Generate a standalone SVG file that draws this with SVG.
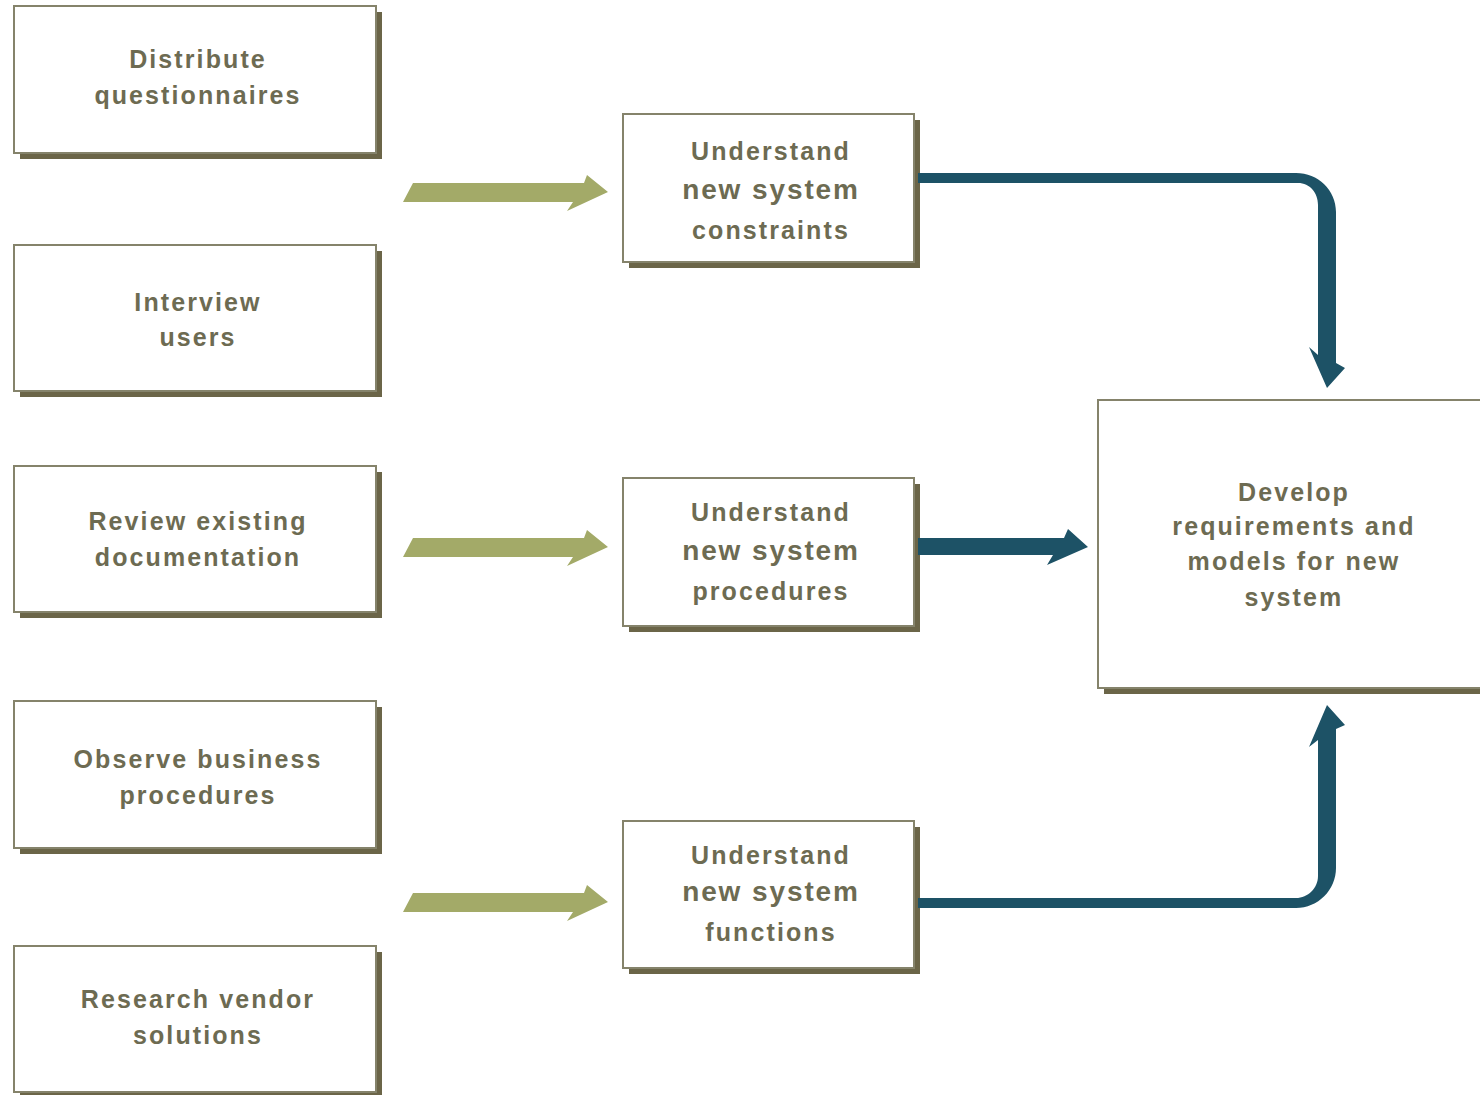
<svg xmlns="http://www.w3.org/2000/svg" width="1480" height="1095" viewBox="0 0 1480 1095">
<style>
.box{fill:#ffffff;stroke:#85836b;stroke-width:2}
.sh{fill:#6b6548}
.t{font-family:"Liberation Sans",Arial,sans-serif;font-weight:bold;font-size:25px;letter-spacing:2.1px;fill:#6d6b52;text-anchor:middle}
.big{font-size:28px;letter-spacing:1.9px}
.g{fill:#a3aa68}
.b{fill:#1d5266}
</style>
<rect width="1480" height="1095" fill="#ffffff"/>
<g id="n1"><rect class="sh" x="20" y="12" width="362" height="147"/><rect class="box" x="14" y="6" width="362" height="147"/><text class="t" x="198" y="68">Distribute</text><text class="t" x="198" y="104">questionnaires</text></g>
<g id="n2"><rect class="sh" x="20" y="251" width="362" height="146"/><rect class="box" x="14" y="245" width="362" height="146"/><text class="t" x="198" y="311">Interview</text><text class="t" x="198" y="346">users</text></g>
<g id="n3"><rect class="sh" x="20" y="472" width="362" height="146"/><rect class="box" x="14" y="466" width="362" height="146"/><text class="t" x="198" y="530">Review existing</text><text class="t" x="198" y="566">documentation</text></g>
<g id="n4"><rect class="sh" x="20" y="707" width="362" height="147"/><rect class="box" x="14" y="701" width="362" height="147"/><text class="t" x="198" y="768">Observe business</text><text class="t" x="198" y="804">procedures</text></g>
<g id="n5"><rect class="sh" x="20" y="952" width="362" height="146"/><rect class="box" x="14" y="946" width="362" height="146"/><text class="t" x="198" y="1008">Research vendor</text><text class="t" x="198" y="1044">solutions</text></g>
<g id="m1"><rect class="sh" x="629" y="120" width="291" height="148"/><rect class="box" x="623" y="114" width="291" height="148"/><text class="t" x="771" y="160">Understand</text><text class="t big" x="771" y="199">new system</text><text class="t" x="771" y="239">constraints</text></g>
<g id="m2"><rect class="sh" x="629" y="484" width="291" height="148"/><rect class="box" x="623" y="478" width="291" height="148"/><text class="t" x="771" y="521">Understand</text><text class="t big" x="771" y="560">new system</text><text class="t" x="771" y="600">procedures</text></g>
<g id="m3"><rect class="sh" x="629" y="827" width="291" height="147"/><rect class="box" x="623" y="821" width="291" height="147"/><text class="t" x="771" y="864">Understand</text><text class="t big" x="771" y="901">new system</text><text class="t" x="771" y="941">functions</text></g>
<g id="r1"><rect class="sh" x="1104" y="406" width="400" height="288"/><rect class="box" x="1098" y="400" width="400" height="288"/><text class="t" x="1294" y="501">Develop</text><text class="t" x="1294" y="535">requirements and</text><text class="t" x="1294" y="570">models for new</text><text class="t" x="1294" y="606">system</text></g>
<g id="connectors">
<polygon class="g" points="413,183 584,183 587,175 608,192 567,211 573,202 403,202"/>
<polygon class="g" points="413,538 584,538 587,530 608,547 567,566 573,557 403,557"/>
<polygon class="g" points="413,893 584,893 587,885 608,902 567,921 573,912 403,912"/>
<path class="b" d="M918,173 H1296 C1318,173 1336,190 1336,212 V363 L1345,368 L1327,388 L1309,347 L1318,355 V205 C1318,193 1310,183 1298,183 H918 Z"/>
<path class="b" d="M918,538 H1064 L1068,529 L1088,547 L1047,565 L1053,555 H918 Z"/>
<path class="b" d="M918,898 H1296 C1308,898 1318,888 1318,876 V740 L1309,747 L1327,705 L1345,725 L1336,729 V868 C1336,890 1318,908 1296,908 H918 Z"/>
</g>
</svg>
